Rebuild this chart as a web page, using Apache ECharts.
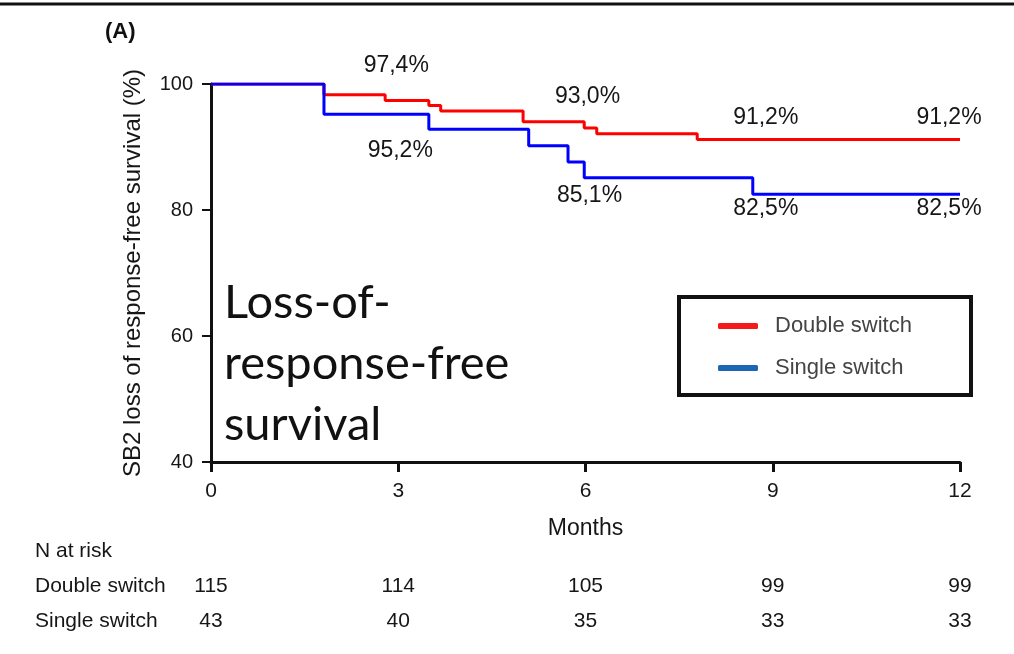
<!DOCTYPE html>
<html>
<head>
<meta charset="utf-8">
<script src="https://cdn.jsdelivr.net/npm/echarts@6/dist/echarts.min.js"></script>
<style>
  html, body { margin: 0; padding: 0; background: #fff; }
  #chart { width: 1014px; height: 654px; }
</style>
</head>
<body>
<div id="chart"></div>
<script>
// Kaplan–Meier steps: [month, survival %] right after each drop
const doubleSwitchSteps = [[0, 100], [1.81, 98.3], [2.79, 97.4], [3.49, 96.6], [3.68, 95.7], [5.0, 94.0], [5.98, 93.0], [6.18, 92.1], [7.79, 91.2], [12, 91.2]];
const singleSwitchSteps = [[0, 100], [1.81, 95.2], [3.49, 92.8], [5.09, 90.2], [5.72, 87.6], [5.98, 85.1], [8.68, 82.5], [12, 82.5]];

const seriesNames = ['Double switch', 'Single switch'];
const monthTicks = [0, 3, 6, 9, 12];
const survivalTicks = [40, 60, 80, 100];

// months at which the survival estimate is printed
const annotatedMonths = [3, 6, 9, 12];

// number at risk table
const riskRows = ['N at risk', 'Double switch', 'Single switch'];
const riskDouble = [115, 114, 105, 99, 99];
const riskSingle = [43, 40, 35, 33, 33];

// label placement around each printed estimate (px)
const labelOffsetDouble = [[-2, -35], [2, -31], [-7, -22], [-11, -22]];
const labelOffsetSingle = [[2, 36], [4, 18], [-7, 14], [-11, 14]];

const SANS = '"Liberation Sans", Arial, Helvetica, sans-serif';
const INK = '#161616';

function survivalAt(steps, t) {
  let v = steps[0][1];
  for (const [m, s] of steps) { if (m <= t) v = s; }
  return v;
}
function pct(v) { return v.toFixed(1).replace('.', ',') + '%'; }

function estimateLabels(steps, offsets) {
  return annotatedMonths.map((m, i) => ({
    value: [m, survivalAt(steps, m)],
    label: { offset: offsets[i] }
  }));
}

function riskPoints(row, counts) {
  return monthTicks.map((m, i) => [m, row, counts[i]]);
}

const chart = echarts.init(document.getElementById('chart'), null, { renderer: 'canvas' });

const annotationLabel = {
  show: true,
  position: 'inside',
  fontFamily: SANS,
  fontSize: 23,
  color: INK,
  opacity: 1,
  textBorderWidth: 0,
  formatter: p => pct(p.value[1])
};

const riskLabel = {
  show: true,
  position: 'inside',
  fontFamily: SANS,
  fontSize: 21,
  color: INK,
  opacity: 1,
  textBorderWidth: 0,
  formatter: p => String(p.value[2])
};

const hiddenMark = { opacity: 1, color: 'transparent' };

chart.setOption({
  animation: false,
  backgroundColor: '#fff',
  grid: [
    { left: 211, right: 54, top: 84, bottom: 192, containLabel: false },
    { left: 211, right: 54, top: 533.5, height: 105, containLabel: false }
  ],
  xAxis: [
    {
      gridIndex: 0, type: 'value', min: 0, max: 12, interval: 3,
      name: 'Months', nameLocation: 'middle', nameGap: 55,
      nameTextStyle: { fontFamily: SANS, fontSize: 23, color: INK },
      axisLine: { show: true, onZero: false, lineStyle: { color: '#111', width: 3 } },
      axisTick: { show: true, length: 10, lineStyle: { color: '#111', width: 3 } },
      axisLabel: { fontFamily: SANS, fontSize: 21, color: INK, margin: 19,
        formatter: v => monthTicks.includes(v) ? String(v) : '' },
      splitLine: { show: false }
    },
    {
      gridIndex: 1, type: 'value', min: 0, max: 12, show: false
    }
  ],
  yAxis: [
    {
      gridIndex: 0, type: 'value', min: 40, max: 100, interval: 20,
      name: 'SB2 loss of response-free survival (%)', nameLocation: 'middle', nameGap: 66, nameRotate: 90,
      nameMoveOverlap: false,
      nameTextStyle: { fontFamily: SANS, fontSize: 24, color: INK },
      axisLine: { show: true, onZero: false, lineStyle: { color: '#111', width: 3 } },
      axisTick: { show: true, length: 9, lineStyle: { color: '#111', width: 2 } },
      axisLabel: { fontFamily: SANS, fontSize: 20, color: INK, margin: 18,
        formatter: v => survivalTicks.includes(v) ? String(v) : '' },
      splitLine: { show: false }
    },
    {
      gridIndex: 1, type: 'category', data: riskRows, inverse: true,
      axisLine: { show: false }, axisTick: { show: false }, splitLine: { show: false },
      axisLabel: { fontFamily: SANS, fontSize: 21, color: INK, align: 'left', margin: 176 }
    }
  ],
  legend: {
    orient: 'vertical', left: 718, top: 315, padding: 0,
    itemWidth: 40, itemHeight: 6, itemGap: 20,
    icon: 'roundRect',
    selectedMode: false,
    data: [
      { name: seriesNames[0], itemStyle: { color: '#f41a1a' } },
      { name: seriesNames[1], itemStyle: { color: '#1c67b3' } }
    ],
    textStyle: { fontFamily: SANS, fontSize: 22, color: '#444', padding: [0, 0, 0, 12] }
  },
  graphic: [
    { type: 'line', shape: { x1: 0, y1: 4, x2: 1014, y2: 4 }, style: { stroke: '#111', lineWidth: 3 }, silent: true },
    { type: 'text', left: 105, top: 21, style: { text: '(A)', fontFamily: SANS, fontWeight: 'bold', fontSize: 22, fill: '#111' } },
    { type: 'text', left: 224, top: 272, style: {
        text: 'Loss-of-\nresponse-free\nsurvival', fontFamily: 'Lato, "Open Sans", sans-serif',
        fontSize: 47, lineHeight: 61, fill: '#111' } },
    { type: 'rect', shape: { x: 679, y: 297, width: 292, height: 98 }, style: { fill: 'none', stroke: '#111', lineWidth: 4 }, silent: true }
  ],
  series: [
    {
      name: seriesNames[0], type: 'line', step: 'end', xAxisIndex: 0, yAxisIndex: 0,
      data: doubleSwitchSteps, showSymbol: false, symbol: 'none',
      lineStyle: { color: '#ff0000', width: 3 }, itemStyle: { color: '#ff0000' }, z: 3
    },
    {
      name: seriesNames[1], type: 'line', step: 'end', xAxisIndex: 0, yAxisIndex: 0,
      data: singleSwitchSteps, showSymbol: false, symbol: 'none',
      lineStyle: { color: '#0000ff', width: 3 }, itemStyle: { color: '#0000ff' }, z: 4
    },
    {
      name: 'double-estimates', type: 'scatter', xAxisIndex: 0, yAxisIndex: 0,
      symbolSize: 0, itemStyle: hiddenMark,
      data: estimateLabels(doubleSwitchSteps, labelOffsetDouble), label: annotationLabel, silent: true
    },
    {
      name: 'single-estimates', type: 'scatter', xAxisIndex: 0, yAxisIndex: 0,
      symbolSize: 0, itemStyle: hiddenMark,
      data: estimateLabels(singleSwitchSteps, labelOffsetSingle), label: annotationLabel, silent: true
    },
    {
      name: 'risk-double', type: 'scatter', xAxisIndex: 1, yAxisIndex: 1,
      symbolSize: 0, itemStyle: hiddenMark,
      data: riskPoints(riskRows[1], riskDouble), label: riskLabel, silent: true
    },
    {
      name: 'risk-single', type: 'scatter', xAxisIndex: 1, yAxisIndex: 1,
      symbolSize: 0, itemStyle: hiddenMark,
      data: riskPoints(riskRows[2], riskSingle), label: riskLabel, silent: true
    }
  ]
});
</script>
</body>
</html>
